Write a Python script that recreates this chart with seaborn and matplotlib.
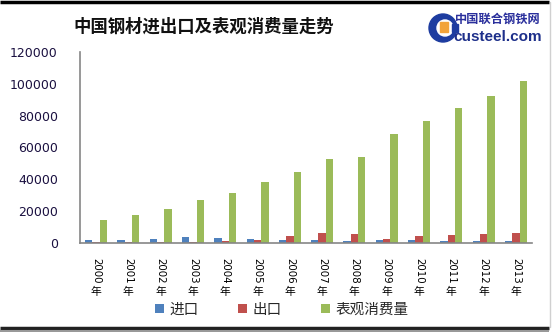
import matplotlib
matplotlib.use("Agg")
import matplotlib.pyplot as plt
import seaborn as sns
import pandas as pd
from matplotlib.patches import Patch, Circle, Rectangle

years = ["2000", "2001", "2002", "2003", "2004", "2005", "2006",
         "2007", "2008", "2009", "2010", "2011", "2012", "2013"]
imports = [1596, 1722, 2449, 3717, 2930, 2582, 1851, 1687, 1543, 1763, 1643, 1558, 1366, 1408]
exports = [621, 474, 545, 696, 1423, 2052, 4301, 6265, 5923, 2460, 4256, 4888, 5573, 6233]
consumption = [14400, 17500, 21250, 26900, 31250, 38100, 44400, 52500, 53750, 68750, 76900, 85000, 92500, 101900]
series_names = ["进口", "出口", "表观消费量"]
colors = ["#4F81BD", "#C0504D", "#9BBB59"]
yticks = [0, 20000, 40000, 60000, 80000, 100000, 120000]
title = "中国钢材进出口及表观消费量走势"

sns.set_theme(style="white")
plt.rcParams['font.family'] = ['Noto Sans CJK SC', 'DejaVu Sans']

df = pd.DataFrame({
    "year": years * 3,
    "value": imports + exports + consumption,
    "series": [series_names[0]] * 14 + [series_names[1]] * 14 + [series_names[2]] * 14,
})

W, H = 553, 332
fig = plt.figure(figsize=(W / 100, H / 100), dpi=100)
fig.patch.set_facecolor("white")
ax = fig.add_axes([80 / W, (H - 243) / H, (532 - 80) / W, (243 - 52) / H])

sns.barplot(data=df, x="year", y="value", hue="series", palette=colors,
            width=0.68, ax=ax, legend=False, saturation=1, linewidth=0)

ax.set_ylim(0, 120000)
ax.set_xlim(-0.5, len(years) - 0.5)
ax.set_yticks(yticks)
ax.set_yticklabels([str(v) for v in yticks], fontsize=9, color="#1a1040",
                   family=["DejaVu Sans"])
ax.tick_params(axis="y", length=0, pad=16)
ax.tick_params(axis="x", length=0, pad=10.5)
ax.set_xticks(range(len(years)))
ax.set_xticklabels(years, rotation=-90, fontsize=7.4, va="top", ha="center",
                   family=["DejaVu Sans"], color="black")
for i in range(len(years)):
    ax.annotate("年", xy=(i, 0), xycoords=("data", "axes fraction"),
                xytext=(0, -35), textcoords="offset points",
                ha="center", va="center", fontsize=7.8, color="black")
ax.set_xlabel("")
ax.set_ylabel("")
for s in ["top", "right"]:
    ax.spines[s].set_visible(False)
for s in ["left", "bottom"]:
    ax.spines[s].set_color("#868686")
    ax.spines[s].set_linewidth(1.2)
ax.grid(False)

# Title
fig.text(73 / W, 1 - 27 / H, title, fontsize=12.5, fontweight="bold",
         ha="left", va="center", color="#111111")

# Logo and frame (decoration)
deco = fig.add_axes([0, 0, 1, 1], zorder=-1)
deco.set_xlim(0, W)
deco.set_ylim(H, 0)
deco.axis("off")
deco.add_patch(Circle((443, 28), 14, color="#1d3ca0"))
deco.add_patch(Circle((445, 28), 8, color="white"))
deco.add_patch(Rectangle((440, 22), 8, 10, color="#f2a33a"))
deco.add_patch(Rectangle((452, 24), 6, 8, color="#1d3ca0"))
deco.text(455, 19, "中国联合钢铁网", fontsize=8.8, fontweight="bold",
          color="#2a2f9c", ha="left", va="center")
deco.text(453, 37, "custeel.com", fontsize=11, fontweight="bold",
          color="#1d2f8a", ha="left", va="center", family=["Liberation Sans"])
deco.plot([0, 549], [1.5, 1.5], color="black", lw=2.5, solid_capstyle="butt")
deco.plot([0, 549], [328, 328], color="#222222", lw=2.5, solid_capstyle="butt")
deco.plot([0, 549], [330.5, 330.5], color="#999999", lw=1.5, solid_capstyle="butt")
deco.plot([549.5, 549.5], [2, 327], color="#d0d0d0", lw=1)

# Legend
handles = [Patch(facecolor=c, edgecolor="none") for c in colors]
fig.legend(handles, series_names, loc="center", bbox_to_anchor=(282 / W, 1 - 310 / H),
           ncol=3, frameon=False, fontsize=10.5, handlelength=0.6, handleheight=0.6,
           handletextpad=0.4, columnspacing=2.7)

fig.savefig("out.png", dpi=100, facecolor="white")
